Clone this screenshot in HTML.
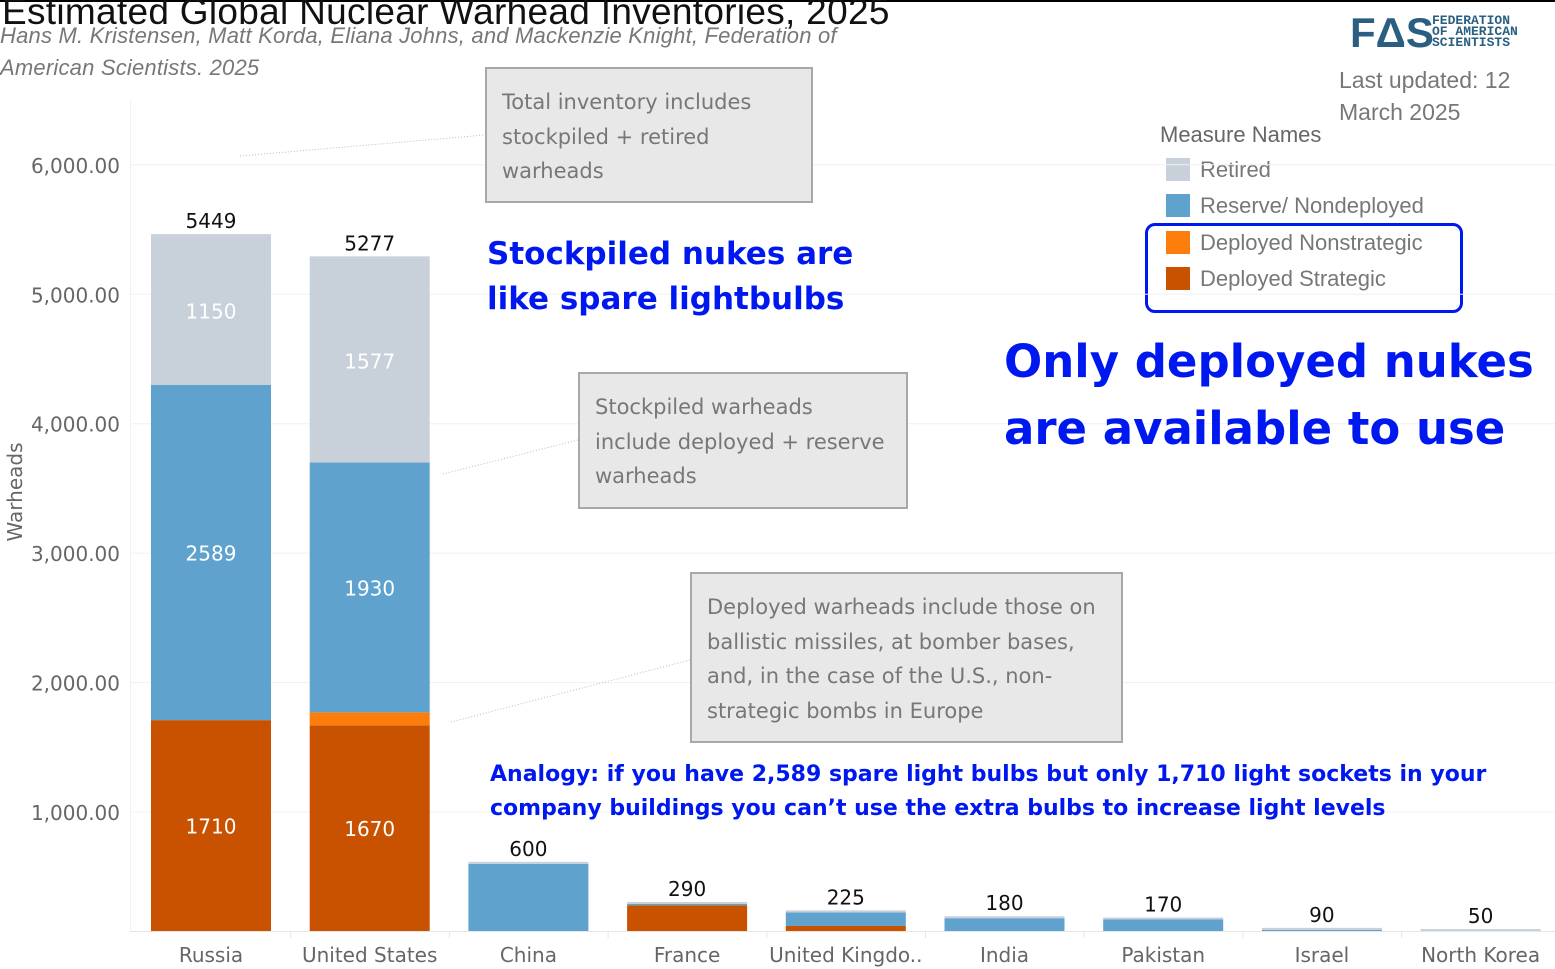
<!DOCTYPE html>
<html><head><meta charset="utf-8"><style>
body{margin:0;width:1555px;height:969px;overflow:hidden;background:#fff;font-family:"Liberation Sans",sans-serif;position:relative}
.a{position:absolute;white-space:nowrap}
.box{position:absolute;background:#e8e8e8;border:2px solid #a8a8a8;color:#777;font-family:"DejaVu Sans",sans-serif;font-size:21px;line-height:34.5px;padding:16px 15px;box-sizing:border-box;white-space:normal}
.blue{color:#0018f0;font-weight:bold;font-family:"DejaVu Sans",sans-serif}
</style></head><body>
<div style="position:absolute;left:0;top:0;width:1555px;height:2px;background:#000"></div>
<div class="a" style="left:2px;top:-9px;font-size:37px;color:#111;letter-spacing:0.3px">Estimated Global Nuclear Warhead Inventories, 2025</div>
<div class="a" style="left:0;top:20px;font-size:22px;color:#777;font-style:italic;line-height:32px;white-space:normal;width:840px;letter-spacing:0.2px">Hans M. Kristensen, Matt Korda, Eliana Johns, and Mackenzie Knight, Federation of American Scientists. 2025</div>
<div class="a" style="left:1350px;top:9px;font-size:42px;font-weight:bold;color:#2a5f82">FΔS</div>
<div class="a" style="left:1432px;top:15px;font-size:13px;font-weight:bold;color:#2a5f82;line-height:11px;font-family:'Liberation Mono',monospace">FEDERATION<br>OF AMERICAN<br>SCIENTISTS</div>
<div class="a" style="left:1339px;top:64px;font-size:23px;color:#777;line-height:32px">Last updated: 12<br>March 2025</div>
<div class="a" style="left:1160px;top:122px;font-size:22px;color:#666">Measure Names</div>
<div id="legend"></div>
<div style="position:absolute;left:1145px;top:223px;width:318px;height:90px;border:3px solid #0018f0;border-radius:10px;box-sizing:border-box"></div>
<svg id="chart" width="1555" height="969" style="position:absolute;left:0;top:0"></svg>
<div class="box" style="left:485px;top:67px;width:328px;height:136px">Total inventory includes stockpiled + retired warheads</div>
<div class="box" style="left:578px;top:372px;width:330px;height:137px">Stockpiled warheads include deployed + reserve warheads</div>
<div class="box" style="left:690px;top:572px;width:433px;height:171px">Deployed warheads include those on ballistic missiles, at bomber bases, and, in the case of the U.S., non-strategic bombs in Europe</div>
<div class="a blue" style="left:487px;top:232px;font-size:31px;line-height:45px">Stockpiled nukes are<br>like spare lightbulbs</div>
<div class="a blue" style="left:1004px;top:328px;font-size:45px;line-height:67px">Only deployed nukes<br>are available to use</div>
<div class="a blue" style="left:490px;top:758px;font-size:22px;line-height:34px">Analogy: if you have 2,589 spare light bulbs but only 1,710 light sockets in your<br>company buildings you can’t use the extra bulbs to increase light levels</div>
<script>
const categories=["Russia","United States","China","France","United Kingdo..","India","Pakistan","Israel","North Korea"];
const strategic=[1710,1670,0,280,120,0,0,0,0];
const nonstrategic=[0,100,0,0,0,0,0,0,0];
const reserve=[2589,1930,600,10,105,180,170,90,50];
const retired=[1150,1577,0,0,0,0,0,0,0];
const totals=[5449,5277,600,290,225,180,170,90,50];
const yTicks=[1000,2000,3000,4000,5000,6000];
const yTickLabels=["1,000.00","2,000.00","3,000.00","4,000.00","5,000.00","6,000.00"];
const NS="http://www.w3.org/2000/svg";
const svg=document.getElementById('chart');
const y=v=>941.5-v*0.12945;
const x0=151,step=158.7,bw=120,base=931;
const F='"DejaVu Sans",sans-serif';
function mk(t,a){const e=document.createElementNS(NS,t);for(const k in a)e.setAttribute(k,a[k]);svg.appendChild(e);return e;}
yTicks.forEach((t,i)=>{
  const g=mk('line',{x1:130,x2:1555,y1:y(t),y2:y(t),stroke:'#f0f0f0'});
  
  
  const l=mk('text',{x:120,y:y(t)+8,'text-anchor':'end','font-size':20,fill:'#666','font-family':F});
  l.textContent=yTickLabels[i];
  
  
});
const yt=mk('text',{x:22,y:492,transform:'rotate(-90 22 492)','text-anchor':'middle','font-size':20,fill:'#666','font-family':F});
yt.textContent='Warheads';


mk('line',{x1:130,x2:1555,y1:base+0.5,y2:base+0.5,stroke:'#e6e6e6'});
mk('line',{x1:130.5,x2:130.5,y1:100,y2:base,stroke:'#f2f2f2'});
const colors=['#c85200','#fc7d0b','#5fa2ce','#c8d0d9'];
const series=[strategic,nonstrategic,reserve,retired];
const snames=['deployed-strategic','deployed-nonstrategic','reserve','retired'];
categories.forEach((c,i)=>{
  const x=x0+i*step;let cum=0;
  series.forEach((s,k)=>{
    const v=s[i];if(v<=0)return;
    const top=y(cum+v),bot=Math.min(y(cum),base);cum+=v;
    if(bot<=top)return;
    const r=mk('rect',{x:x,y:top,width:bw,height:bot-top,fill:colors[k]});
    
    
    if(bot-top>100&&k!==1){
      const t=mk('text',{x:x+bw/2,y:(top+bot)/2+8,'text-anchor':'middle','font-size':20,fill:'#fff','font-family':F});
      t.textContent=v;
      
      
    }
  });
  const tp=Math.min(y(cum),base);
  const ln=mk('rect',{x:x,y:tp-2,width:bw,height:2,fill:'#c8d0d9'});
  
  
  const tl=mk('text',{x:x+bw/2,y:Math.min(y(totals[i]),base)-8,'text-anchor':'middle','font-size':20,fill:'#111','font-family':F});
  tl.textContent=totals[i];
  
  
  const xl=mk('text',{x:x+bw/2,y:962,'text-anchor':'middle','font-size':20,fill:'#666','font-family':F});
  xl.textContent=c;
  
  
  if(i>0){mk('line',{x1:x-19,x2:x-19,y1:base,y2:938,stroke:'#e6e6e6'});}
});
[[240,156,485,135],[443,474,578,440],[451,722,690,660]].forEach(p=>{
  const l=mk('line',{x1:p[0],y1:p[1],x2:p[2],y2:p[3],stroke:'#bbb','stroke-dasharray':'1 2'});
  
  
});
const leg=document.getElementById('legend');
const legNames=['Retired','Reserve/ Nondeployed','Deployed Nonstrategic','Deployed Strategic'];
const legColors=['#c8d0d9','#5fa2ce','#fc7d0b','#c85200'];
const legY=[170,206,243,279];
legNames.forEach((n,i)=>{
  const d=document.createElement('div');d.className='a';
  d.style.cssText='left:1166px;top:'+(legY[i]-12)+'px;font-size:22px;color:#777;line-height:24px';
  d.innerHTML='<span style="display:inline-block;width:24px;height:23px;background:'+legColors[i]+';vertical-align:top;margin-right:10px"></span>'+n;
  
  
  leg.appendChild(d);
});
</script>
</body></html>
